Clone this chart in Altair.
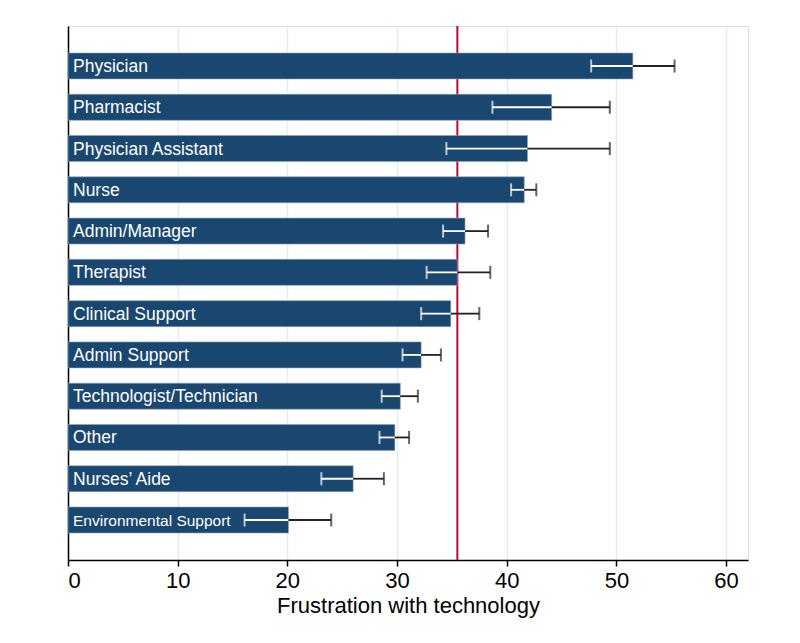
import altair as alt
import pandas as pd

categories = ["Physician", "Pharmacist", "Physician Assistant", "Nurse", "Admin/Manager",
              "Therapist", "Clinical Support", "Admin Support", "Technologist/Technician",
              "Other", "Nurses\u2019 Aide", "Environmental Support"]
means = [51.5, 44.1, 41.9, 41.6, 36.2, 35.5, 34.9, 32.2, 30.3, 29.8, 26.0, 20.1]
lower = [47.7, 38.7, 34.5, 40.4, 34.2, 32.7, 32.2, 30.5, 28.6, 28.4, 23.1, 16.1]
upper = [55.3, 49.4, 49.4, 42.7, 38.3, 38.5, 37.5, 34.0, 31.9, 31.1, 28.8, 24.0]
overall_mean = [35.5]
x_ticks = [0, 10, 20, 30, 40, 50, 60]

df = pd.DataFrame({"cat": categories, "mean": means, "lo": lower, "hi": upper})
ref = pd.DataFrame({"v": overall_mean})

FONT = "Liberation Sans"
NAVY = "#1a476f"

yscale = alt.Scale(domain=categories, paddingInner=0.37, paddingOuter=0.654)
xscale = alt.Scale(domain=[0, 62], nice=False, zero=True)

y_enc = alt.Y("cat:N", scale=yscale, sort=categories,
              axis=alt.Axis(labels=False, ticks=False, title=None, domainColor="black",
                            domainWidth=1.5, grid=False))
x_axis = alt.Axis(values=x_ticks, title="Frustration with technology", grid=True,
                  gridColor="#e3eef0", gridWidth=1.5, domainColor="black", domainWidth=1.5,
                  tickColor="black", tickSize=6, tickWidth=1.5, labelFontSize=22,
                  labelFont=FONT, labelColor="black", labelPadding=4, titleFont=FONT,
                  titleFontSize=22, titleFontWeight="normal", titleColor="black",
                  titlePadding=4)

base = alt.Chart(df)

red = alt.Chart(ref).mark_rule(color="#c10534", strokeWidth=2).encode(
    x=alt.X("v:Q", scale=xscale, axis=x_axis)
)

bars = base.mark_bar(color=NAVY, stroke="#8fa6bb", strokeWidth=0.6).encode(
    x=alt.X("mean:Q", scale=xscale, axis=x_axis),
    y=y_enc,
)

err_in = base.mark_rule(color="white", strokeWidth=1.8).encode(
    x="lo:Q", x2="mean:Q", y=alt.Y("cat:N", sort=categories)
)
err_out = base.mark_rule(color="#222222", strokeWidth=1.8).encode(
    x="mean:Q", x2="hi:Q", y=alt.Y("cat:N", sort=categories)
)
cap_lo = base.mark_tick(color="white", size=13, thickness=2).encode(
    x="lo:Q", y=alt.Y("cat:N", sort=categories)
)
cap_hi = base.mark_tick(color="#222222", size=13, thickness=2).encode(
    x="hi:Q", y=alt.Y("cat:N", sort=categories)
)

labels = base.mark_text(align="left", baseline="middle", color="white", font=FONT,
                        dx=0, dy=1).encode(
    x=alt.value(5),
    y=alt.Y("cat:N", sort=categories),
    text="cat:N",
    size=alt.condition(alt.datum.cat == "Environmental Support", alt.value(15.5), alt.value(17.5)),
)

chart = alt.layer(red, bars, err_in, err_out, cap_lo, cap_hi, labels).properties(
    width=680, height=534,
    autosize=alt.AutoSizeParams(type="none"),
    padding={"left": 60, "top": 18, "right": 44, "bottom": 70},
).configure_view(stroke=None).configure(background="white")

chart.save("out.html", embed_options={"renderer": "svg", "actions": False})
